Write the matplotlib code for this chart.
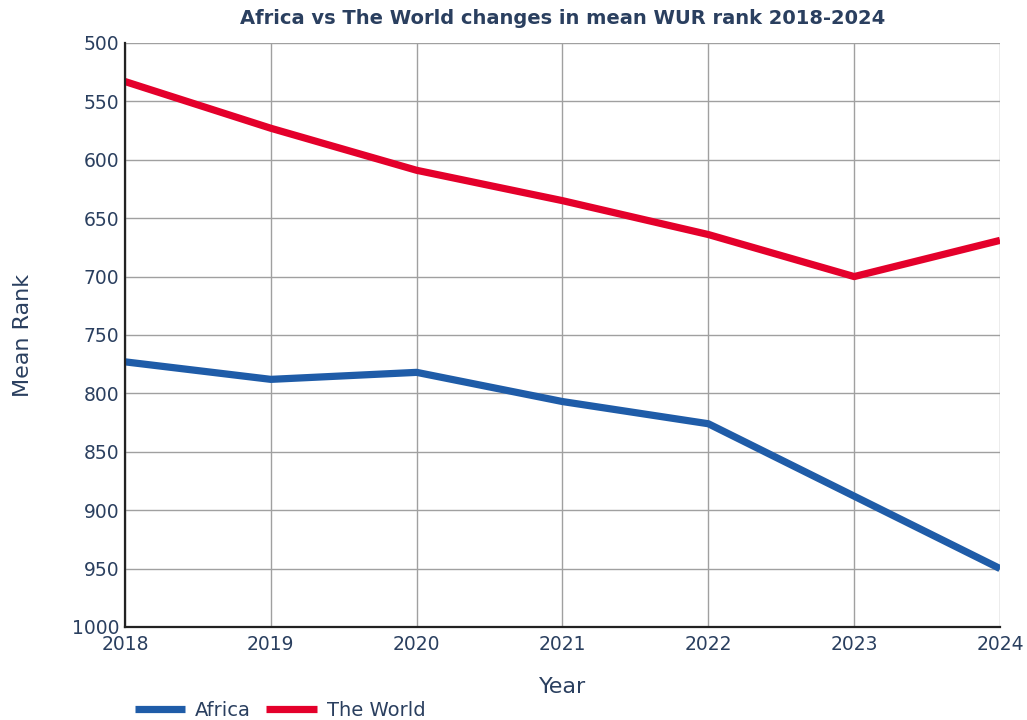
import matplotlib.pyplot as plt

# Data
years = [2018, 2019, 2020, 2021, 2022, 2023, 2024]
africa_rank = [773, 788, 782, 807, 826, 888, 950]
world_rank = [533, 573, 609, 635, 664, 700, 669]

text_color = '#2a3f5f'
africa_color = '#1f5ca8'
world_color = '#e4002b'

plt.rcParams['font.family'] = ['DejaVu Sans']

fig = plt.figure(figsize=(10.27, 7.2), dpi=100)
ax = fig.add_axes([0.1217, 0.1292, 0.852, 0.8111])

ax.plot(years, africa_rank, color=africa_color, linewidth=5.2, label='Africa', solid_capstyle='butt')
ax.plot(years, world_rank, color=world_color, linewidth=5.2, label='The World', solid_capstyle='butt')

ax.set_xlim(2018, 2024)
ax.set_ylim(1000, 500)
ax.set_yticks(range(500, 1001, 50))
ax.set_xticks(years)

ax.grid(True, color='#a0a0a0', linewidth=1)
ax.set_axisbelow(True)
for side in ['top', 'right']:
    ax.spines[side].set_visible(False)
ax.spines['left'].set_color('#222222')
ax.spines['bottom'].set_color('#222222')
ax.spines['left'].set_linewidth(1.6)
ax.spines['bottom'].set_linewidth(1.6)

ax.tick_params(axis='both', length=0, labelsize=13.5, labelcolor=text_color)
ax.tick_params(axis='x', pad=6)
ax.tick_params(axis='y', pad=4)

ax.set_xlabel('Year', fontsize=16, color=text_color, labelpad=16)
ax.set_ylabel('Mean Rank', fontsize=16, color=text_color, labelpad=28)

fig.suptitle('Africa vs The World changes in mean WUR rank 2018-2024',
             fontsize=14, fontweight='bold', color=text_color, x=0.548, y=0.988)

leg = fig.legend(loc='lower left', bbox_to_anchor=(0.114, -0.024), ncol=2, frameon=False,
                 fontsize=14, handlelength=2.6, columnspacing=0.8, handletextpad=0.5)
for t in leg.get_texts():
    t.set_color(text_color)

fig.savefig('out.png', dpi=100)
